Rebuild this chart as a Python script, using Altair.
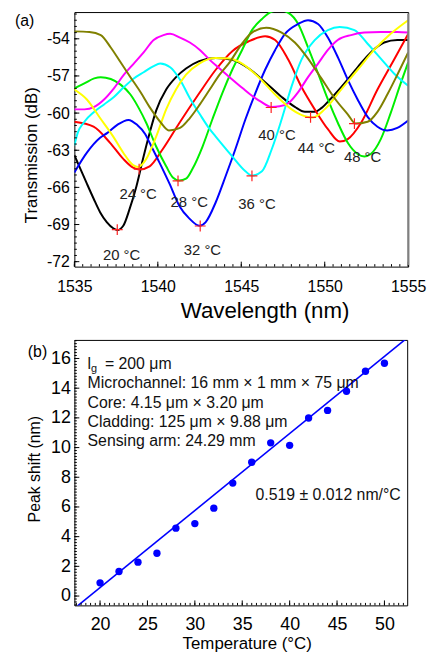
import altair as alt
import pandas as pd

FONT = "Liberation Sans"

# ---------------- Panel (a): transmission spectra ----------------
temps_a = ["20", "24", "28", "32", "36", "40", "44", "48"]
colors_a = ["#000000", "#ff0000", "#00ee00", "#0000ff", "#00ffff", "#ff00ff", "#ffff00", "#808000"]

wl_20 = [1535.0, 1535.36, 1535.75, 1536.15, 1536.54, 1536.94, 1537.33, 1537.57, 1537.93, 1538.32, 1538.72, 1539.11,
         1539.51, 1539.9, 1540.5, 1541.09, 1541.69, 1542.48, 1543.47, 1544.46, 1545.45, 1546.43, 1547.42, 1548.21,
         1548.81, 1549.4, 1549.8, 1550.39, 1551.18, 1551.97, 1552.76, 1553.56, 1554.35, 1555.0]
tr_20 = [-63.4, -64.5, -65.7, -66.9, -68.0, -68.8, -69.3, -69.45, -69.1, -67.7, -65.9, -63.7,
         -61.6, -59.8, -58.1, -57.1, -56.4, -55.8, -55.55, -55.7, -56.4, -57.5, -58.7, -59.5,
         -59.9, -59.9, -59.6, -58.8, -57.6, -56.3, -55.1, -54.3, -54.1, -54.1]

wl_24 = [1535.0, 1536.15, 1537.14, 1537.93, 1538.52, 1538.92, 1539.51, 1540.3, 1541.29, 1542.48, 1543.47, 1544.46,
         1545.45, 1546.43, 1547.03, 1547.82, 1548.61, 1549.4, 1550.19, 1550.9, 1551.38, 1552.17, 1553.16, 1554.15, 1555.0]
tr_24 = [-60.7, -61.1, -62.4, -63.7, -64.4, -64.55, -64.3, -62.9, -60.8, -58.4, -56.5, -55.0,
         -54.2, -53.8, -54.1, -55.7, -57.9, -59.7, -61.3, -62.3, -62.1, -60.8, -58.1, -55.7, -53.6]

wl_28 = [1535.0, 1535.6, 1536.19, 1536.58, 1537.18, 1537.77, 1538.36, 1538.86, 1539.31, 1539.9, 1540.5, 1540.9,
         1541.29, 1541.69, 1542.08, 1542.68, 1543.27, 1543.86, 1544.46, 1545.05, 1545.64, 1546.24, 1546.83, 1547.32,
         1547.82, 1548.41, 1549.0, 1549.6, 1550.19, 1550.79, 1551.38, 1551.97, 1552.37, 1552.76, 1553.36, 1553.95,
         1554.55, 1555.0]
tr_28 = [-58.0, -57.6, -57.2, -57.1, -57.25, -57.7, -58.5, -59.6, -60.8, -62.7, -64.3, -65.2,
         -65.45, -65.3, -64.5, -62.7, -60.5, -58.4, -56.5, -54.9, -53.3, -52.4, -51.8, -51.7,
         -51.9, -52.8, -54.7, -56.8, -58.9, -60.8, -62.4, -63.3, -63.5, -63.3, -62.1, -60.0,
         -57.6, -55.9]

wl_32 = [1535.0, 1535.75, 1536.54, 1536.98, 1537.57, 1538.24, 1538.76, 1539.25, 1539.51, 1540.1, 1540.7, 1541.29,
         1541.88, 1542.5, 1542.87, 1543.47, 1544.06, 1544.65, 1545.25, 1545.84, 1546.43, 1547.03, 1547.62, 1548.41,
         1549.0, 1549.6, 1550.19, 1550.79, 1551.38, 1551.97, 1552.57, 1553.16, 1553.75, 1554.35, 1555.0]
tr_32 = [-64.8, -63.2, -62.0, -61.6, -60.95, -60.55, -60.95, -61.7, -62.4, -64.0, -65.7, -67.5,
         -68.5, -69.1, -68.8, -67.2, -65.1, -62.9, -60.5, -58.4, -56.5, -54.9, -53.6, -52.8,
         -52.5, -52.8, -53.9, -55.5, -57.3, -58.9, -60.3, -61.1, -61.4, -61.2, -60.6]

wl_36 = [1535.0, 1535.2, 1535.6, 1536.19, 1536.78, 1537.37, 1537.97, 1538.56, 1539.15, 1539.75, 1540.14, 1540.74,
         1541.33, 1541.92, 1542.52, 1543.11, 1543.47, 1544.46, 1545.25, 1545.64, 1546.24, 1546.83, 1547.42, 1548.0,
         1548.6, 1549.4, 1550.19, 1550.9, 1551.78, 1552.57, 1553.36, 1554.15, 1555.0]
tr_36 = [-62.6, -61.6, -60.7, -59.9, -59.3, -58.7, -57.9, -57.2, -56.7, -56.2, -56.0, -56.3,
         -57.3, -58.8, -60.1, -61.3, -61.9, -63.5, -64.7, -65.05, -64.7, -62.9, -60.5, -57.9,
         -55.7, -54.1, -53.3, -53.05, -53.3, -54.4, -55.6, -56.8, -57.8]

wl_40 = [1535.0, 1535.6, 1536.19, 1536.78, 1537.37, 1537.97, 1538.56, 1539.15, 1539.75, 1540.34, 1540.74, 1541.33,
         1541.92, 1542.52, 1543.11, 1543.7, 1544.3, 1545.09, 1545.64, 1546.2, 1546.79, 1547.3, 1547.82, 1548.41,
         1549.0, 1549.6, 1550.19, 1550.78, 1551.58, 1552.37, 1553.36, 1554.35, 1555.0]
tr_40 = [-59.7, -59.7, -59.5, -58.9, -58.0, -56.9, -56.0, -55.1, -54.1, -53.7, -53.6, -53.9,
         -54.3, -54.9, -55.7, -56.4, -57.1, -58.0, -58.6, -59.1, -59.5, -59.45, -59.2, -58.3,
         -57.1, -56.0, -54.9, -54.1, -53.7, -53.5, -53.45, -53.45, -53.5]

wl_44 = [1535.0, 1535.75, 1536.54, 1537.33, 1537.93, 1538.52, 1538.82, 1539.31, 1539.9, 1540.5, 1541.09, 1541.69,
         1542.48, 1543.47, 1544.26, 1545.05, 1546.04, 1547.03, 1548.02, 1548.81, 1549.3, 1549.99, 1550.98, 1551.97,
         1552.96, 1553.95, 1555.0]
tr_44 = [-58.1, -58.9, -60.4, -61.9, -63.2, -64.2, -64.35, -63.7, -61.9, -59.7, -58.1, -56.9,
         -56.0, -55.55, -55.6, -56.0, -57.1, -58.5, -59.7, -60.25, -60.35, -59.7, -58.1, -56.5,
         -54.9, -53.6, -52.5]

wl_48 = [1535.0, 1535.9, 1536.58, 1537.18, 1537.77, 1538.36, 1538.96, 1539.55, 1540.14, 1540.66, 1541.33, 1541.92,
         1542.52, 1543.11, 1543.7, 1544.3, 1545.09, 1545.64, 1546.5, 1547.42, 1548.21, 1549.0, 1549.8, 1550.59,
         1551.38, 1551.85, 1552.57, 1553.16, 1553.75, 1554.35, 1555.0]
tr_48 = [-53.4, -53.45, -53.7, -54.7, -55.9, -57.1, -58.3, -59.6, -60.7, -61.4, -61.2, -60.4,
         -59.3, -58.1, -56.9, -55.9, -54.3, -53.5, -53.1, -53.5, -54.3, -55.6, -57.2, -58.8,
         -60.1, -60.85, -60.7, -59.9, -58.5, -56.9, -55.1]

# dip markers (red +) and their labels
mk_wl = [1537.57, 1538.88, 1541.21, 1542.54, 1545.64, 1546.79, 1549.15, 1551.78]
mk_tr = [-69.41, -64.53, -65.47, -69.12, -65.07, -59.55, -60.35, -60.85]
lb_text = ["20 °C", "24 °C", "28 °C", "32 °C", "36 °C", "40 °C", "44 °C", "48 °C"]
lb_wl = [1537.83, 1538.82, 1541.88, 1542.67, 1545.94, 1547.14, 1549.5, 1552.27]
lb_tr = [-71.46, -66.54, -67.2, -71.06, -67.34, -61.78, -62.86, -63.52]

xa_ticks = [1535, 1540, 1545, 1550, 1555]
xa_minor = [1535 + 0.5 * i for i in range(41)]
ya_ticks = [-54, -57, -60, -63, -66, -69, -72]
ya_minor = [-54 + 0.5 * k for k in range(5)] + [-54 - 0.5 * k for k in range(1, 37)]

# ---------------- Panel (b): peak shift vs temperature ----------------
temp_b = [20, 22, 24, 26, 28, 30, 32, 34, 36, 38, 40, 42, 44, 46, 48, 50]
shift_b = [0.89, 1.65, 2.28, 2.88, 4.57, 4.88, 5.92, 7.61, 9.01, 10.32, 10.15, 11.99, 12.5, 13.79, 15.14, 15.68]
fit_slope = 0.519
fit_intercept = -9.81
fit_x = [17.0, 53.0]

xb_ticks = [20, 25, 30, 35, 40, 45, 50]
xb_minor = [17.5 + 0.5 * i for i in range(70)]
yb_ticks = [0, 2, 4, 6, 8, 10, 12, 14, 16]
yb_minor = [-0.6 + 0.2 * i for i in range(90)]

ann_lines = ["Microchannel: 16 mm × 1 mm × 75 μm", "Core: 4.15 μm × 3.20 μm",
             "Cladding: 125 μm × 9.88 μm", "Sensing arm: 24.29 mm"]
ann_y = [14.33, 13.03, 11.73, 10.43]
ann_x = 18.68
lg_y = 15.63
slope_text = "0.519 ± 0.012 nm/°C"
slope_pos = (36.4, 6.77)

# ---------------- build panel (a) ----------------
XA_DOM = [1535, 1555]
YA_DOM = [-72.4, -51.84]
WA, HA = 337, 257

curves = {"20": (wl_20, tr_20), "24": (wl_24, tr_24), "28": (wl_28, tr_28), "32": (wl_32, tr_32),
          "36": (wl_36, tr_36), "40": (wl_40, tr_40), "44": (wl_44, tr_44), "48": (wl_48, tr_48)}
rows = []
for i, t in enumerate(temps_a):
    wl, tr = curves[t]
    for w, v in zip(wl, tr):
        rows.append({"temp": t, "x": w, "y": v})
df_a = pd.DataFrame(rows)

sx = alt.Scale(domain=XA_DOM, nice=False, zero=False)
sy = alt.Scale(domain=YA_DOM, nice=False, zero=False)
xa_axis = alt.Axis(values=xa_ticks, format="d", title="Wavelength (nm)", labelFontSize=16,
                   titleFontSize=22.5, labelPadding=12, titlePadding=5, labelFlush=False,
                   titleX=192, titleAnchor="start", titleAlign="center")
ya_axis = alt.Axis(values=ya_ticks, labelExpr="'' + datum.value", title="Transmission (dB)",
                   labelFontSize=16, titleFontSize=17, labelPadding=5, titlePadding=6, labelFlush=False,
                   titleY=144, titleAnchor="start", titleAlign="center")


def XA():
    return alt.X("x:Q", scale=sx, axis=xa_axis)


def YA():
    return alt.Y("y:Q", scale=sy, axis=ya_axis)


lines_a = alt.Chart(df_a).mark_line(strokeWidth=2, interpolate="monotone", clip=True).encode(
    x=XA(), y=YA(),
    color=alt.Color("temp:N", scale=alt.Scale(domain=temps_a, range=colors_a), legend=None),
    detail="temp:N",
)

df_mk = pd.DataFrame({"x": mk_wl, "y": mk_tr})
markers_a = alt.Chart(df_mk).mark_point(shape="M-1,0L1,0M0,-1L0,1", size=120, filled=False,
                                        color="#ff2020", strokeWidth=1.2, opacity=1).encode(x=XA(), y=YA())

df_lb = pd.DataFrame({"x": lb_wl, "y": lb_tr, "t": lb_text})
labels_a = alt.Chart(df_lb).mark_text(font=FONT, fontSize=15, color="#222", align="center",
                                      baseline="middle").encode(x=XA(), y=YA(), text="t:N")


def xticks(vals, length, h, xenc):
    return alt.Chart(pd.DataFrame({"x": vals})).mark_rule(color="black", strokeWidth=1).encode(
        x=xenc, y=alt.value(h), y2=alt.value(h - length))


def yticks(vals, length, yenc):
    return alt.Chart(pd.DataFrame({"y": vals})).mark_rule(color="black", strokeWidth=1).encode(
        y=yenc, x=alt.value(0), x2=alt.value(length))


ya_minor_in = [v for v in ya_minor if YA_DOM[0] <= v <= YA_DOM[1]]
tag_a = alt.Chart(pd.DataFrame({"t": ["(a)"]})).mark_text(
    font=FONT, fontSize=16, align="left", baseline="middle", color="black").encode(
    x=alt.value(-60), y=alt.value(9), text="t:N")

# the right-hand frame edge of panel (a) is drawn grey and slightly heavier in the original
right_edge_a = alt.Chart(pd.DataFrame({"k": [0]})).mark_rule(color="#808080", strokeWidth=2).encode(
    x=alt.value(WA), y=alt.value(1.5), y2=alt.value(HA - 1.5))

panel_a = alt.layer(
    lines_a, markers_a, labels_a,
    xticks(xa_ticks, 5, HA, XA()), xticks(xa_minor, 2.5, HA, XA()),
    yticks(ya_ticks, 5, YA()), yticks(ya_minor_in, 2.5, YA()),
    right_edge_a, tag_a,
).properties(width=WA, height=HA)

# ---------------- build panel (b) ----------------
XB_DOM = [17.29, 52.4]
YB_DOM = [-0.63, 17.25]
WB, HB = 336, 268
sxb = alt.Scale(domain=XB_DOM, nice=False, zero=False)
syb = alt.Scale(domain=YB_DOM, nice=False, zero=False)
xb_axis = alt.Axis(values=xb_ticks, title="Temperature (°C)", labelFontSize=18, titleFontSize=17,
                   labelPadding=10, titlePadding=3, labelFlush=False,
                   titleX=174, titleAnchor="start", titleAlign="center")
yb_axis = alt.Axis(values=yb_ticks, title="Peak shift (nm)", labelFontSize=18, titleFontSize=16,
                   labelPadding=4, titlePadding=8, labelFlush=False,
                   titleY=130, titleAnchor="start", titleAlign="center")


def XB():
    return alt.X("x:Q", scale=sxb, axis=xb_axis)


def YB():
    return alt.Y("y:Q", scale=syb, axis=yb_axis)


df_b = pd.DataFrame({"x": temp_b, "y": shift_b})
pts_b = alt.Chart(df_b).mark_circle(size=55, color="#0000ff", opacity=1).encode(x=XB(), y=YB())

df_fit = pd.DataFrame({"x": fit_x, "y": [fit_slope * v + fit_intercept for v in fit_x]})
fit_b = alt.Chart(df_fit).mark_line(color="#0000ff", strokeWidth=1.6, clip=True).encode(x=XB(), y=YB())

df_ann = pd.DataFrame({"x": [ann_x] * len(ann_lines), "y": ann_y, "t": ann_lines})
ann_b = alt.Chart(df_ann).mark_text(font=FONT, fontSize=16, align="left", baseline="middle",
                                    color="#111").encode(x=XB(), y=YB(), text="t:N")

df_lg = pd.DataFrame({"x": [ann_x], "y": [lg_y]})
lg_l = alt.Chart(df_lg).mark_text(font=FONT, fontSize=16, align="left", baseline="middle",
                                  color="#111", text="l").encode(x=XB(), y=YB())
lg_g = alt.Chart(df_lg).mark_text(font=FONT, fontSize=11, align="left", baseline="middle",
                                  color="#111", text="g", dx=3.5, dy=5).encode(x=XB(), y=YB())
lg_rest = alt.Chart(df_lg).mark_text(font=FONT, fontSize=16, align="left", baseline="middle",
                                     color="#111", text="= 200 μm", dx=17.5).encode(x=XB(), y=YB())

df_sl = pd.DataFrame({"x": [slope_pos[0]], "y": [slope_pos[1]], "t": [slope_text]})
sl_b = alt.Chart(df_sl).mark_text(font=FONT, fontSize=16, align="left", baseline="middle",
                                  color="#111").encode(x=XB(), y=YB(), text="t:N")

xb_minor_in = [v for v in xb_minor if XB_DOM[0] <= v <= XB_DOM[1]]
yb_minor_in = [v for v in yb_minor if YB_DOM[0] <= v <= YB_DOM[1]]
tag_b = alt.Chart(pd.DataFrame({"t": ["(b)"]})).mark_text(
    font=FONT, fontSize=16, align="left", baseline="middle", color="black").encode(
    x=alt.value(-47), y=alt.value(12), text="t:N")

panel_b = alt.layer(
    fit_b, pts_b, ann_b, lg_l, lg_g, lg_rest, sl_b,
    xticks(xb_ticks, 5, HB, XB()), xticks(xb_minor_in, 2.5, HB, XB()),
    yticks(yb_ticks, 5, YB()), yticks(yb_minor_in, 2.5, YB()),
    tag_b,
).properties(width=WB, height=HB)

chart = alt.vconcat(panel_a, panel_b, spacing=17).properties(
    padding={"left": 6, "top": 0, "right": 0, "bottom": 0}
).configure(background="white").configure_view(stroke="black", strokeWidth=1).configure_axis(
    labelFont=FONT, titleFont=FONT, labelColor="black", titleColor="black", titleFontWeight="normal",
    ticks=False, domain=False, grid=False
)

chart.save("out.html", embed_options={"renderer": "svg", "actions": False})
